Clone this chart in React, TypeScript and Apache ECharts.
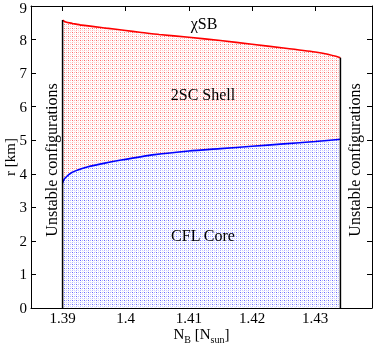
import React, { useEffect, useRef } from "react";
import * as echarts from "echarts";

const redX = [1.39, 1.3905, 1.3916, 1.393, 1.3969, 1.4, 1.4022, 1.4053, 1.41, 1.415, 1.42, 1.425, 1.43, 1.432, 1.434];
const redR = [8.58, 8.52, 8.48, 8.43, 8.34, 8.27, 8.22, 8.15, 8.07, 7.97, 7.86, 7.75, 7.63, 7.56, 7.46];
const blueX = [1.39, 1.3903, 1.3914, 1.3939, 1.3965, 1.3993, 1.4046, 1.41, 1.415, 1.42, 1.425, 1.43, 1.434];
const blueR = [3.73, 3.85, 4.03, 4.2, 4.31, 4.41, 4.57, 4.68, 4.75, 4.82, 4.89, 4.96, 5.03];
const xTicks = [1.39, 1.4, 1.41, 1.42, 1.43];
const edgeX = [1.39, 1.434];
const edgeTop = [8.58, 7.46];

function makeTile(rgb: string) {
  const c = document.createElement("canvas");
  c.width = 4;
  c.height = 4;
  const g = c.getContext("2d")!;
  g.fillStyle = "#ffffff";
  g.fillRect(0, 0, 4, 4);
  g.fillStyle = `rgba(${rgb},0.6)`;
  g.fillRect(0, 0, 1, 1);
  g.fillStyle = `rgba(${rgb},0.3)`;
  g.fillRect(2, 0, 1, 1);
  g.fillRect(0, 2, 1, 1);
  g.fillStyle = `rgba(${rgb},0.18)`;
  g.fillRect(2, 2, 1, 1);
  g.fillStyle = `rgba(${rgb},0.08)`;
  g.fillRect(1, 1, 1, 1);
  g.fillRect(3, 3, 1, 1);
  return c;
}

export default function App() {
  const ref = useRef<HTMLDivElement>(null);
  useEffect(() => {
    const chart = echarts.init(ref.current!, undefined, { renderer: "svg" });
    const font = "Liberation Serif";
    const redPat = { image: makeTile("255,0,0"), repeat: "repeat" };
    const bluePat = { image: makeTile("0,0,255"), repeat: "repeat" };
    const axisCommon = {
      type: "value",
      axisLine: { show: true, onZero: false, lineStyle: { color: "#000", width: 1 } },
      splitLine: { show: false },
    };
    chart.setOption({
      animation: false,
      grid: { left: 31, right: 2, top: 6, bottom: 39, containLabel: false, outerBoundsMode: "none" },
      xAxis: [
        {
          ...axisCommon,
          min: 1.385,
          max: 1.439,
          position: "bottom",
          axisTick: { show: true, inside: true, length: 5, customValues: xTicks, lineStyle: { color: "#000" } },
          axisLabel: { customValues: xTicks, color: "#000", fontFamily: font, fontSize: 15, margin: 3, lineHeight: 14 },
          name: "{n|N}{s|B}{n| [N}{s|sun}{n|]}",
          nameLocation: "middle",
          nameGap: 19,
          nameMoveOverlap: false,
          nameTextStyle: {
            rich: {
              n: { fontFamily: font, fontSize: 15, color: "#000", verticalAlign: "bottom", lineHeight: 14 },
              s: { fontFamily: font, fontSize: 10, color: "#000", verticalAlign: "bottom", lineHeight: 10, padding: [0, 0, -3, 0] },
            },
          },
        },
        {
          ...axisCommon,
          min: 1.385,
          max: 1.439,
          position: "top",
          axisTick: { show: true, inside: true, length: 5, customValues: xTicks, lineStyle: { color: "#000" } },
          axisLabel: { show: false },
        },
      ],
      yAxis: [
        {
          ...axisCommon,
          min: 0,
          max: 9,
          interval: 1,
          position: "left",
          axisTick: { show: true, inside: true, length: 5, lineStyle: { color: "#000" } },
          axisLabel: {
            color: "#000",
            fontFamily: font,
            fontSize: 15,
            margin: 4,
            lineHeight: 11,
            formatter: (v: number) => (v === 9 ? "{t|9}" : String(v)),
            rich: { t: { fontFamily: font, fontSize: 15, color: "#000", lineHeight: 11, padding: [4, 0, 0, 0] } },
          },
          name: "r [km]",
          nameLocation: "middle",
          nameGap: 14,
          nameMoveOverlap: false,
          nameTextStyle: { fontFamily: font, fontSize: 15, color: "#000" },
        },
        {
          ...axisCommon,
          min: 0,
          max: 9,
          interval: 1,
          position: "right",
          axisTick: { show: true, inside: true, length: 5, lineStyle: { color: "#000" } },
          axisLabel: { show: false },
        },
      ],
      series: [
        {
          type: "line",
          data: redX.map((x, i) => [x, redR[i]]),
          symbol: "none",
          smooth: 0.2,
          lineStyle: { color: "#ff0000", width: 1.6 },
          areaStyle: { color: redPat, opacity: 1, origin: "start" },
          z: 2,
        },
        {
          type: "line",
          data: blueX.map((x, i) => [x, blueR[i]]),
          symbol: "none",
          smooth: 0.2,
          lineStyle: { color: "#0000ff", width: 1.6 },
          areaStyle: { color: bluePat, opacity: 1, origin: "start" },
          z: 3,
        },
        ...edgeX.map((x, i) => ({
          type: "line",
          data: [
            [x, 0],
            [x, edgeTop[i]],
          ],
          symbol: "none",
          lineStyle: { color: "#000", width: 1.5 },
          z: 4,
        })),
      ],
      graphic: [
        { type: "text", x: 204, y: 23, style: { text: "χSB", fontFamily: font, fontSize: 16, fill: "#000", align: "center", verticalAlign: "middle" }, z: 10 },
        { type: "text", x: 203, y: 94, style: { text: "2SC Shell", fontFamily: font, fontSize: 16, fill: "#000", align: "center", verticalAlign: "middle" }, z: 10 },
        { type: "text", x: 203, y: 235, style: { text: "CFL Core", fontFamily: font, fontSize: 16, fill: "#000", align: "center", verticalAlign: "middle" }, z: 10 },
        { type: "text", x: 51, y: 160, rotation: Math.PI / 2, style: { text: "Unstable configurations", fontFamily: font, fontSize: 16, fill: "#000", align: "center", verticalAlign: "middle" }, z: 10 },
        { type: "text", x: 354, y: 160, rotation: Math.PI / 2, style: { text: "Unstable configurations", fontFamily: font, fontSize: 16, fill: "#000", align: "center", verticalAlign: "middle" }, z: 10 },
      ],
    });
    return () => chart.dispose();
  }, []);
  return <div ref={ref} style={{ position: "fixed", left: 0, top: 0, width: 374, height: 347 }} />;
}
